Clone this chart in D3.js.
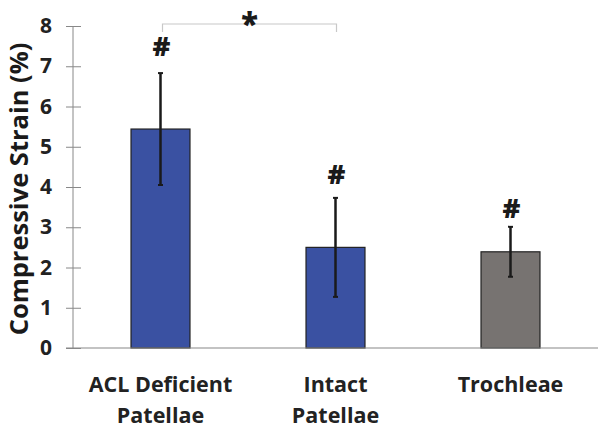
<!DOCTYPE html>
<html><head><meta charset="utf-8">
<script src="https://cdn.jsdelivr.net/npm/d3@7"></script>
<style>body{margin:0;background:#fff}svg{display:block}</style>
</head><body>
<svg id="c" width="604" height="430"></svg>
<script>
const categories = [["ACL Deficient","Patellae"],["Intact","Patellae"],["Trochleae"]];
const means = [5.44, 2.50, 2.39];
const errs = [1.39, 1.23, 0.62];
const colors = ["#3a51a2","#3a51a2","#777371"];
const hashY = [7.48, 4.30, 3.45];
const yTicks = [0,1,2,3,4,5,6,7,8];
const sigPair = [0,1];
const sigY = 8.05;
const yLabel = "Compressive Strain (%)";

const svg = d3.select("#c");
const fontF = "'Open Sans', sans-serif";
const x = d3.scaleBand().domain(d3.range(3)).range([73,598]).paddingInner(0.663).paddingOuter(0.3315);
const y = d3.scaleLinear().domain([0,8]).range([348,26]);

// y axis
const ya = svg.append("g").attr("transform","translate(73,0)")
  .call(d3.axisLeft(y).tickValues(yTicks).tickSize(7).tickSizeOuter(0).tickPadding(14));
ya.select(".domain").attr("stroke","#888").attr("d","M0,26V348");
ya.selectAll(".tick line").attr("stroke","#888").attr("x1",8);
ya.selectAll(".tick text").attr("font-family",fontF).attr("font-weight","bold").attr("font-size",21).attr("fill","#222");

// bars
svg.selectAll("rect.bar").data(means).join("rect").attr("class","bar")
  .attr("x",(d,i)=>x(i)).attr("width",x.bandwidth())
  .attr("y",d=>y(d)).attr("height",d=>y(0)-y(d))
  .attr("fill",(d,i)=>colors[i]).attr("stroke","#222").attr("stroke-width",1.2);

// x axis baseline
svg.append("line").attr("x1",66).attr("x2",598).attr("y1",y(0)).attr("y2",y(0)).attr("stroke","#888").attr("stroke-width",1.2);

// error bars
const eb = svg.selectAll("g.eb").data(means).join("g").attr("class","eb");
eb.append("line").attr("x1",(d,i)=>x(i)+x.bandwidth()/2).attr("x2",(d,i)=>x(i)+x.bandwidth()/2)
  .attr("y1",(d,i)=>y(d+errs[i])).attr("y2",(d,i)=>y(d-errs[i])).attr("stroke","#1a1a1a").attr("stroke-width",2.5);
[1,-1].forEach(s=>{
  eb.append("line").attr("x1",(d,i)=>x(i)+x.bandwidth()/2-2.5).attr("x2",(d,i)=>x(i)+x.bandwidth()/2+2.5)
    .attr("y1",(d,i)=>y(d+s*errs[i])).attr("y2",(d,i)=>y(d+s*errs[i])).attr("stroke","#1a1a1a").attr("stroke-width",2);
});

// hashes
svg.selectAll("text.hash").data(hashY).join("text").attr("class","hash")
  .attr("x",(d,i)=>x(i)+x.bandwidth()/2+1).attr("y",d=>y(d)+9)
  .attr("text-anchor","middle").attr("font-family",fontF).attr("font-weight","800").attr("font-size",27).attr("fill","#1a1a1a").text("#");

// significance bracket
const cx0 = x(sigPair[0])+x.bandwidth()/2+2, cx1 = x(sigPair[1])+x.bandwidth()/2+1;
svg.append("path").attr("d",`M${cx0},${y(sigY)+8}V${y(sigY)}H${cx1}V${y(sigY)+8}`)
  .attr("fill","none").attr("stroke","#c8c8c8").attr("stroke-width",1.2);
svg.append("text").attr("x",(cx0+cx1)/2).attr("y",y(sigY)+11).attr("text-anchor","middle")
  .attr("font-family",fontF).attr("font-weight","800").attr("font-size",31).attr("fill","#1a1a1a").text("*");

// category labels
const cl = svg.selectAll("text.cat").data(categories).join("text").attr("class","cat")
  .attr("text-anchor","middle").attr("font-family",fontF).attr("font-weight","bold").attr("font-size",21.5).attr("fill","#222");
cl.each(function(d,i){
  d3.select(this).selectAll("tspan").data(d).join("tspan")
    .attr("x",x(i)+x.bandwidth()/2).attr("y",(t,j)=>392+j*31).text(t=>t);
});

// y label
svg.append("text").attr("transform","translate(28,189) rotate(-90)").attr("text-anchor","middle")
  .attr("font-family",fontF).attr("font-weight","bold").attr("font-size",25.5).attr("fill","#1a1a1a").text(yLabel);
</script>
</body></html>
